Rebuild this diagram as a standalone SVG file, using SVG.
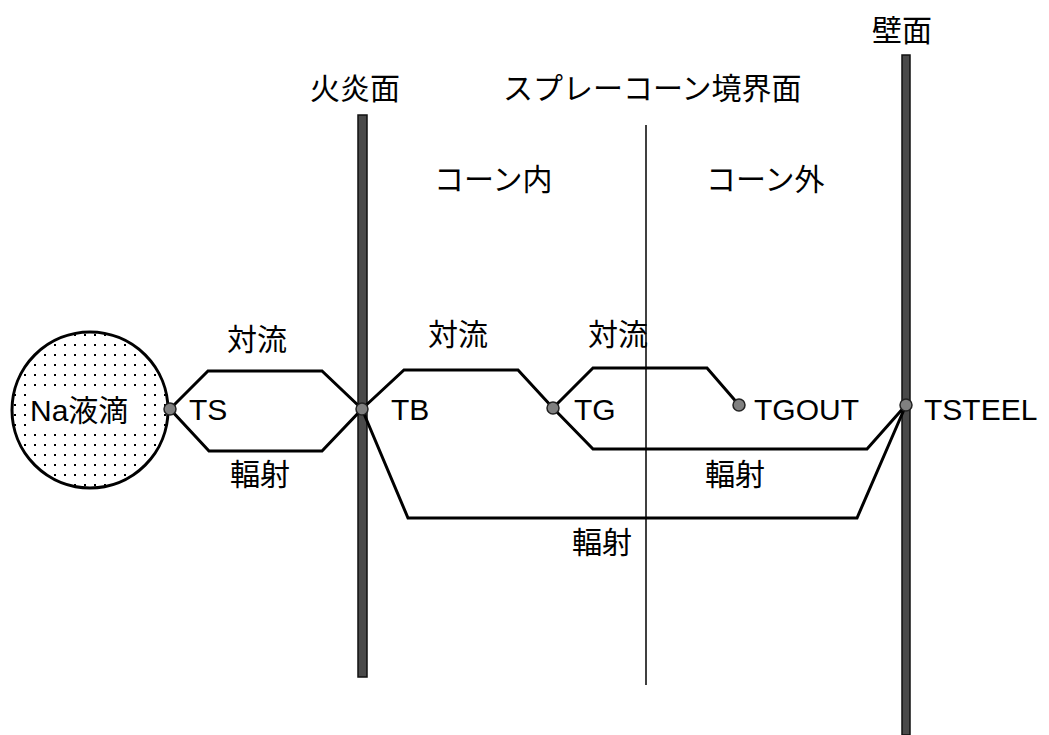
<svg xmlns="http://www.w3.org/2000/svg" width="1049" height="735" viewBox="0 0 1049 735">
<style>
text{font-family:"Liberation Sans","Noto Sans CJK JP",sans-serif;fill:#000}
.lbl{font-size:30px}
.nd{font-size:30px}
.wire{fill:none;stroke:#000;stroke-width:3;stroke-linejoin:miter}
.dot{fill:#808080;stroke:#222;stroke-width:1.5}
.wall{fill:#4a4a4a;stroke:#111;stroke-width:1.5}
</style>
<defs>
<pattern id="dots" x="0" y="0" width="10" height="10" patternUnits="userSpaceOnUse">
<rect x="4" y="4" width="2" height="2" fill="#000"/>
</pattern>
</defs>
<g id="walls">
<rect class="wall" x="358" y="115" width="9" height="562"/>
<rect class="wall" x="902" y="55" width="8" height="680"/>
<line x1="646" y1="125" x2="646" y2="685" stroke="#000" stroke-width="1.5"/>
</g>
<g id="headings">
<text class="lbl" x="310" y="99">火炎面</text>
<text class="lbl" x="503" y="99">スプレーコーン境界面</text>
<text class="lbl" x="872" y="41">壁面</text>
<text class="lbl" x="434" y="190">コーン内</text>
<text class="lbl" x="706" y="190">コーン外</text>
</g>
<g id="connectors">
<polygon class="wire" points="170,409 208,371 322,371 362,409 322,451 209,451"/>
<polyline class="wire" points="362,409 404,370 518,370 553,408"/>
<polyline class="wire" points="362,409 408,518 857,518 906,405"/>
<polyline class="wire" points="553,408 593,368 707,368 739,405"/>
<polyline class="wire" points="553,408 593,449 867,449 906,405"/>
<text class="lbl" x="227" y="350">対流</text>
<text class="lbl" x="230" y="485">輻射</text>
<text class="lbl" x="428" y="345">対流</text>
<text class="lbl" x="588" y="345">対流</text>
<text class="lbl" x="705" y="485">輻射</text>
<text class="lbl" x="572" y="553">輻射</text>
</g>
<g id="na">
<circle cx="90" cy="410" r="78" fill="url(#dots)" stroke="#000" stroke-width="3"/>
<rect x="28" y="392" width="112" height="34" fill="#fff"/>
<text class="lbl" x="30" y="421">Na液滴</text>
</g>
<g id="TS"><circle class="dot" cx="170" cy="409" r="6"/><text class="nd" x="189" y="420">TS</text></g>
<g id="TB"><circle class="dot" cx="362" cy="409" r="6"/><text class="nd" x="391" y="420">TB</text></g>
<g id="TG"><circle class="dot" cx="553" cy="408" r="6"/><text class="nd" x="574" y="420">TG</text></g>
<g id="TGOUT"><circle class="dot" cx="739" cy="405" r="6"/><text class="nd" x="754" y="420">TGOUT</text></g>
<g id="TSTEEL"><circle class="dot" cx="906" cy="405" r="6"/><text class="nd" x="924" y="420">TSTEEL</text></g>
</svg>
